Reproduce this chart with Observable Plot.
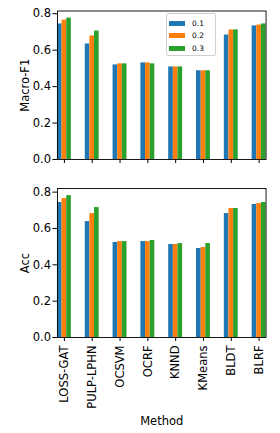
<!DOCTYPE html>
<html>
<head>
<meta charset="utf-8">
<script src="https://cdn.jsdelivr.net/npm/d3@7"></script>
<script src="https://cdn.jsdelivr.net/npm/@observablehq/plot@0.6"></script>
<style>
  html, body { margin: 0; padding: 0; background: #fff; }
  #wrap { position: relative; width: 280px; height: 433px; }
  #wrap svg { display: block; }
  .legend { position: absolute; left: 166px; top: 13px; width: 50px; height: 43px;
    border: 1px solid #d0d0d0; border-radius: 2px; background: rgba(255,255,255,0.8);
    font-family: "DejaVu Sans", sans-serif; font-size: 7.5px; color: #000; box-sizing: border-box; padding-top: 3px; }
  .legend .row { display: flex; align-items: center; height: 12.5px; }
  .legend .sw { width: 16px; height: 5px; margin-left: 2px; margin-right: 7px; }
</style>
</head>
<body>
<div id="wrap"></div>
<script>
const methods = ["LOSS-GAT", "PULP-LPHN", "OCSVM", "OCRF", "KNND", "KMeans", "BLDT", "BLRF"];
const ratios = ["0.1", "0.2", "0.3"];
const colors = ["#1f77b4", "#ff7f0e", "#2ca02c"];
const yTicks = [0, 0.2, 0.4, 0.6, 0.8];

const f1_01 = [0.744, 0.634, 0.519, 0.530, 0.508, 0.487, 0.683, 0.733];
const f1_02 = [0.765, 0.678, 0.525, 0.530, 0.508, 0.487, 0.711, 0.738];
const f1_03 = [0.776, 0.705, 0.525, 0.525, 0.508, 0.487, 0.711, 0.744];

const acc_01 = [0.743, 0.638, 0.523, 0.528, 0.512, 0.490, 0.682, 0.732];
const acc_02 = [0.765, 0.682, 0.528, 0.528, 0.512, 0.495, 0.710, 0.737];
const acc_03 = [0.781, 0.715, 0.528, 0.534, 0.517, 0.517, 0.710, 0.743];

function table(series) {
  const rows = [];
  methods.forEach((m, i) => {
    ratios.forEach((r, j) => rows.push({method: m, ratio: r, value: series[j][i]}));
  });
  return rows;
}

function panel({data, label, height, marginTop, marginBottom, yMax, bottom}) {
  return Plot.plot({
    width: 280,
    height,
    marginLeft: 50,
    marginRight: 7.5,
    marginTop,
    marginBottom,
    style: {fontFamily: "DejaVu Sans", fontSize: "11.5px", color: "#000", background: "#fff", overflow: "visible"},
    fx: {
      domain: methods,
      paddingInner: 0.5,
      paddingOuter: 0.25,
      round: false,
      axis: "bottom",
      tickSize: 4,
      tickPadding: 4,
      tickRotate: bottom ? -90 : 0,
      tickFormat: bottom ? (d => d) : (() => ""),
      label: bottom ? "Method" : null,
      labelAnchor: "center",
      labelOffset: 87,
      labelArrow: "none"
    },
    x: {domain: ratios, padding: 0, round: false, axis: null},
    y: {
      domain: [0, yMax],
      ticks: yTicks,
      tickFormat: ".1f",
      tickSize: 4.5,
      tickPadding: 2,
      label,
      labelAnchor: "center",
      labelOffset: 37,
      labelArrow: "none"
    },
    color: {domain: ratios, range: colors},
    marks: [
      Plot.barY(data, {fx: "method", x: "ratio", y: "value", fill: "ratio"}),
      Plot.frame({facet: "super", stroke: "#000", strokeWidth: 0.9})
    ]
  });
}

const wrap = document.getElementById("wrap");
wrap.appendChild(panel({data: table([f1_01, f1_02, f1_03]), label: "Macro-F1", height: 170, marginTop: 10.5, marginBottom: 11, yMax: 0.815, bottom: false}));
wrap.appendChild(panel({data: table([acc_01, acc_02, acc_03]), label: "Acc", height: 263, marginTop: 18, marginBottom: 96, yMax: 0.82, bottom: true}));

const legend = document.createElement("div");
legend.className = "legend";
ratios.forEach((r, i) => {
  const row = document.createElement("div");
  row.className = "row";
  const sw = document.createElement("span");
  sw.className = "sw";
  sw.style.background = colors[i];
  const t = document.createElement("span");
  t.textContent = r;
  row.appendChild(sw);
  row.appendChild(t);
  legend.appendChild(row);
});
wrap.appendChild(legend);
</script>
</body>
</html>
